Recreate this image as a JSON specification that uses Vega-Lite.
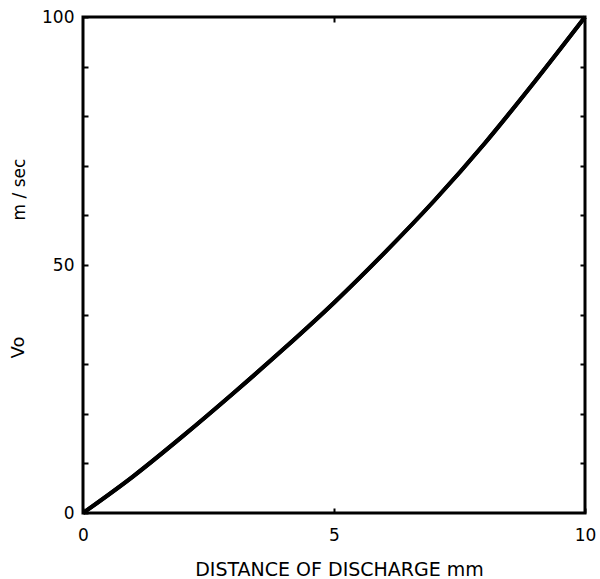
{
  "$schema": "https://vega.github.io/schema/vega-lite/v6.json",
  "autosize": "none",
  "width": 502,
  "height": 496,
  "padding": {"left": 83, "top": 17, "right": 15, "bottom": 66},
  "background": "white",
  "config": {
    "view": {"stroke": "black", "strokeWidth": 3},
    "axis": {
      "domain": false,
      "grid": false,
      "labelFont": "DejaVu Sans",
      "labelFontSize": 17,
      "labelColor": "black",
      "labelFlush": false,
      "titleFont": "DejaVu Sans",
      "titleFontWeight": "normal",
      "titleColor": "black",
      "tickColor": "black",
      "tickWidth": 2,
      "tickSize": 5,
      "offset": -5
    }
  },
  "data": {
    "values": [
      {"d": 0, "v": 0},
      {"d": 1, "v": 7.4},
      {"d": 2, "v": 15.6},
      {"d": 3, "v": 24.2},
      {"d": 4, "v": 33.1},
      {"d": 5, "v": 42.4},
      {"d": 6, "v": 52.4},
      {"d": 7, "v": 63.0},
      {"d": 8, "v": 74.5},
      {"d": 9, "v": 87.0},
      {"d": 10, "v": 100}
    ]
  },
  "layer": [
    {
      "mark": {"type": "line", "color": "black", "strokeWidth": 4, "interpolate": "monotone", "clip": false},
      "encoding": {
        "x": {
          "field": "d", "type": "quantitative",
          "scale": {"domain": [0, 10], "nice": false},
          "axis": {
            "orient": "bottom",
            "values": [0, 5, 10],
            "labelPadding": 14,
            "title": "DISTANCE OF DISCHARGE   mm",
            "titleFontSize": 19,
            "titleAlign": "center",
            "titleBaseline": "alphabetic",
            "titleX": 256,
            "titleY": 67
          }
        },
        "y": {
          "field": "v", "type": "quantitative",
          "scale": {"domain": [0, 100], "nice": false},
          "axis": {
            "orient": "left",
            "values": [0, 10, 20, 30, 40, 50, 60, 70, 80, 90, 100],
            "labelExpr": "datum.value % 50 === 0 ? datum.label : ''",
            "labelPadding": 9,
            "title": "Vo",
            "titleFontSize": 18,
            "titleAngle": -90,
            "titleAlign": "center",
            "titleBaseline": "middle",
            "titleX": -70,
            "titleY": 330
          }
        }
      }
    },
    {
      "mark": {"type": "line", "color": "black", "strokeWidth": 4, "interpolate": "monotone", "clip": false},
      "encoding": {
        "x": {
          "field": "d", "type": "quantitative",
          "axis": {"orient": "top", "values": [5], "labels": false, "title": null}
        },
        "y": {
          "field": "v", "type": "quantitative",
          "axis": {
            "orient": "right",
            "values": [10, 20, 30, 40, 50, 60, 70, 80, 90],
            "labels": false,
            "title": "m / sec",
            "titleFontSize": 17,
            "titleAngle": -90,
            "titleAlign": "center",
            "titleBaseline": "middle",
            "titleX": -561,
            "titleY": 172
          }
        }
      }
    }
  ],
  "resolve": {"axis": {"x": "independent", "y": "independent"}}
}
